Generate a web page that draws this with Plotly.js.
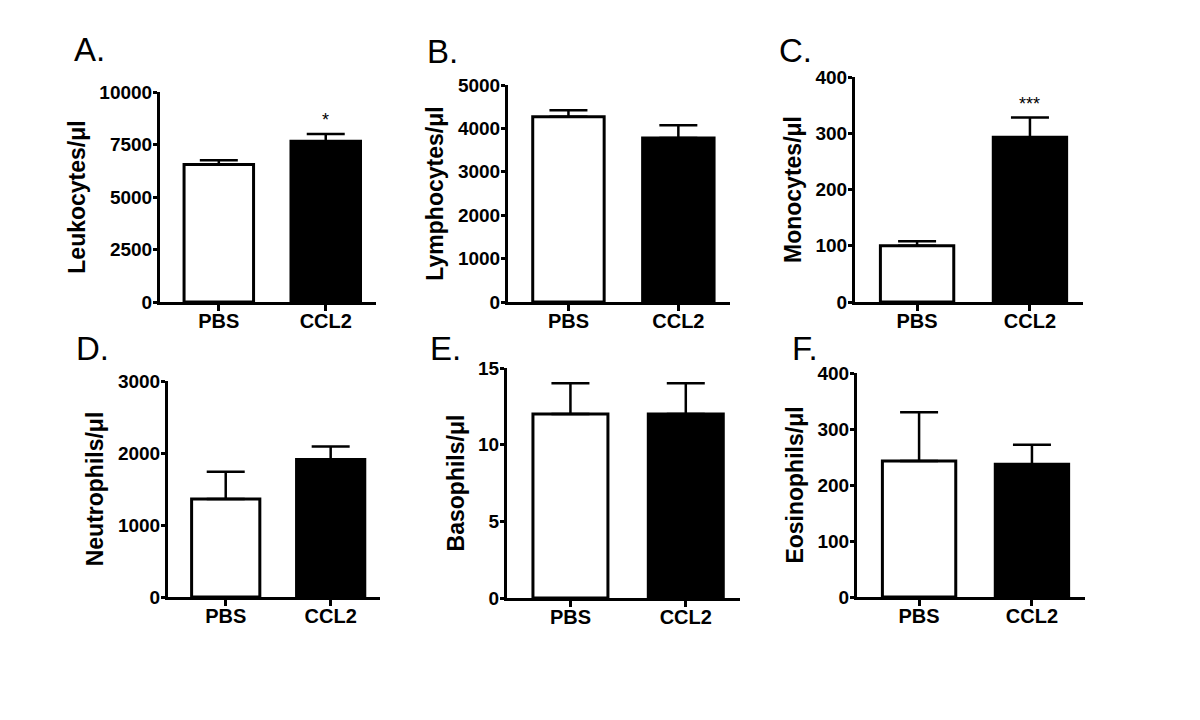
<!DOCTYPE html>
<html>
<head>
<meta charset="utf-8">
<script src="https://cdn.plot.ly/plotly-3.0.1.min.js"></script>
<style>
  html, body { margin: 0; padding: 0; background: #ffffff; }
  #chart { width: 1200px; height: 720px; }
</style>
</head>
<body>
<div id="chart"></div>
<script>
  const groups = ["PBS", "CCL2"];

  const leukocytes = [6550, 7650];
  const leukocytesErr = [200, 350];
  const lymphocytes = [4270, 3780];
  const lymphocytesErr = [150, 290];
  const monocytes = [100, 293];
  const monocytesErr = [8, 35];
  const neutrophils = [1360, 1910];
  const neutrophilsErr = [380, 180];
  const basophils = [12, 12];
  const basophilsErr = [2, 2];
  const eosinophils = [243, 237];
  const eosinophilsErr = [87, 35];

  const panelLetters = ["A.", "B.", "C.", "D.", "E.", "F."];
  const yTitles = ["Leukocytes/μl", "Lymphocytes/μl", "Monocytes/μl",
                   "Neutrophils/μl", "Basophils/μl", "Eosinophils/μl"];
  const yMax = [10000, 5000, 400, 3000, 15, 400];
  const yStep = [2500, 1000, 100, 1000, 5, 100];
  const stars = ["*", "", "***", "", "", ""];
  const starY = [8650, 0, 352, 0, 0, 0];

  const values = [leukocytes, lymphocytes, monocytes, neutrophils, basophils, eosinophils];
  const errors = [leukocytesErr, lymphocytesErr, monocytesErr, neutrophilsErr, basophilsErr, eosinophilsErr];

  // plot boxes in pixels: [left, right, top, bottom]
  const boxes = [
    [160, 376, 92, 302],
    [508, 730, 85, 302],
    [855, 1083, 77, 302],
    [168, 380, 381, 597],
    [507, 740, 368, 598],
    [857, 1085, 373, 597],
  ];
  const letterPos = [[72, 50], [425, 52], [777, 51], [74, 348], [428, 348], [790, 348]];

  const W = 1200, H = 720;
  const FONT = "'Liberation Sans', Arial, sans-serif";

  const traces = [];
  const layout = {
    width: W,
    height: H,
    margin: { l: 0, r: 0, t: 0, b: 0 },
    paper_bgcolor: "#ffffff",
    plot_bgcolor: "#ffffff",
    showlegend: false,
    font: { family: FONT, color: "#000000" },
    annotations: [],
  };

  values.forEach((vals, i) => {
    const n = i === 0 ? "" : String(i + 1);
    const b = boxes[i];
    traces.push({
      type: "bar",
      x: groups,
      y: vals,
      xaxis: "x" + n,
      yaxis: "y" + n,
      width: 0.65,
      marker: { color: ["#ffffff", "#000000"], line: { color: "#000000", width: 3 } },
      error_y: {
        type: "data",
        symmetric: false,
        array: errors[i],
        arrayminus: [0, 0],
        color: "#000000",
        thickness: 2.5,
        width: 19,
      },
      hoverinfo: "x+y",
    });

    layout["xaxis" + n] = {
      domain: [b[0] / W, b[1] / W],
      anchor: "y" + n,
      type: "category",
      range: [-0.55, 1.47],
      showline: true,
      linewidth: 3,
      linecolor: "#000000",
      ticks: "outside",
      ticklen: 6,
      tickwidth: 3,
      tickcolor: "#000000",
      ticklabelstandoff: -7,
      showgrid: false,
      zeroline: false,
      tickfont: { family: FONT, size: 20, color: "#000000", weight: "bold" },
      fixedrange: true,
    };
    layout["yaxis" + n] = {
      domain: [1 - b[3] / H, 1 - b[2] / H],
      anchor: "x" + n,
      range: [0, yMax[i]],
      tick0: 0,
      dtick: yStep[i],
      tickformat: "d",
      showline: true,
      linewidth: 3,
      linecolor: "#000000",
      ticks: "outside",
      ticklen: 4,
      tickwidth: 3,
      tickcolor: "#000000",
      ticklabelstandoff: -3,
      showgrid: false,
      zeroline: false,
      tickfont: { family: FONT, size: 19, color: "#000000", weight: "bold" },
      title: {
        text: yTitles[i],
        font: { family: FONT, size: 23, color: "#000000", weight: "bold" },
        standoff: 8,
      },
      fixedrange: true,
    };

    layout.annotations.push({
      xref: "paper",
      yref: "paper",
      x: letterPos[i][0] / W,
      y: 1 - letterPos[i][1] / H,
      xanchor: "left",
      yanchor: "middle",
      text: panelLetters[i],
      showarrow: false,
      font: { family: FONT, size: 33, color: "#000000" },
    });

    if (stars[i]) {
      layout.annotations.push({
        xref: "x" + n,
        yref: "y" + n,
        x: groups[1],
        y: starY[i],
        text: stars[i],
        showarrow: false,
        font: { family: FONT, size: 18, color: "#000000" },
      });
    }
  });

  Plotly.newPlot("chart", traces, layout, { displayModeBar: false, staticPlot: true });
</script>
</body>
</html>
